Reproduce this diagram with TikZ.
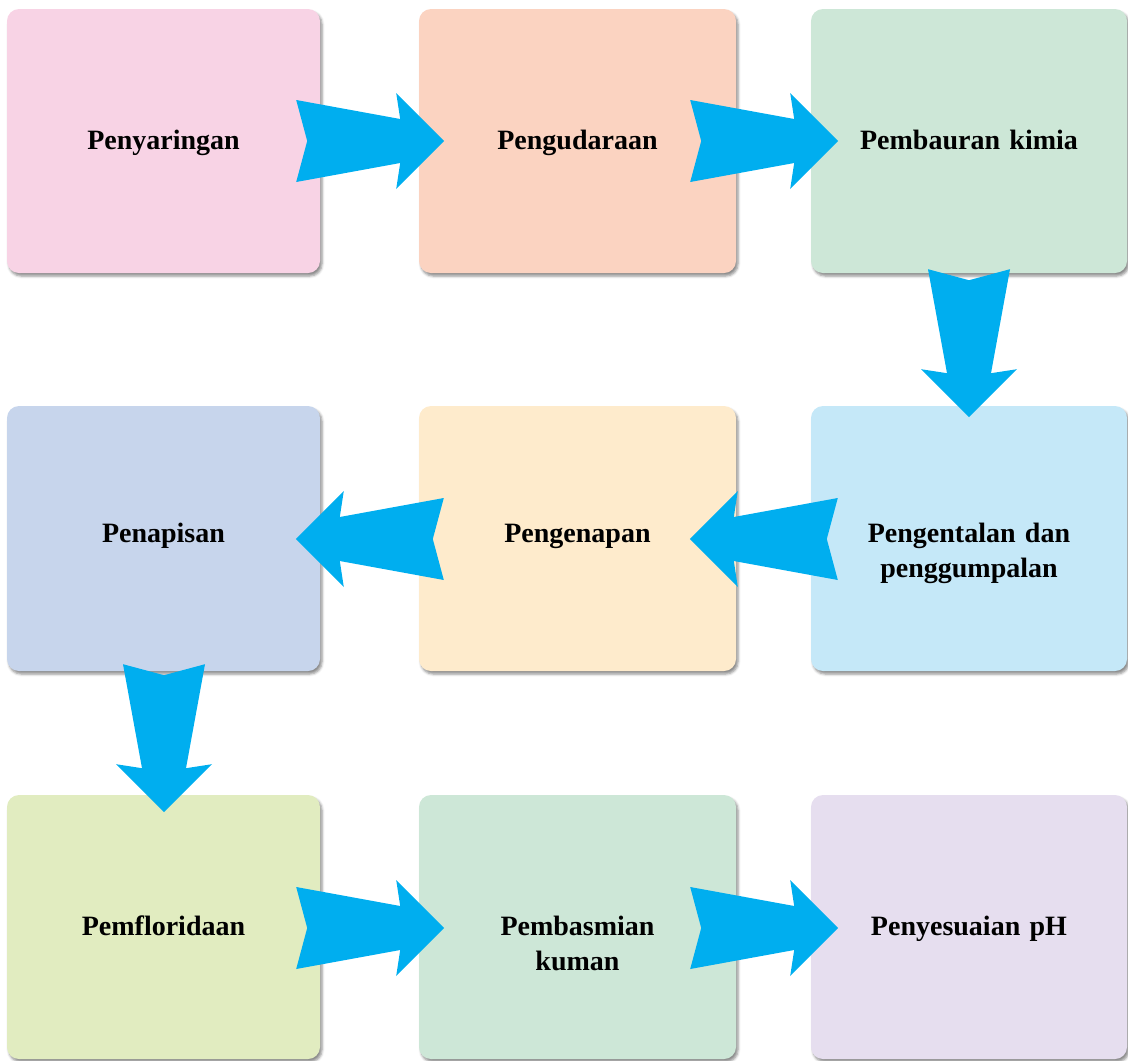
\documentclass[tikz,border=0pt]{standalone}
\usepackage{fontspec}
\setmainfont{Liberation Serif}
\usetikzlibrary{calc,shadows.blur}

\definecolor{cPink}{HTML}{F8D3E5}
\definecolor{cPeach}{HTML}{FBD3C1}
\definecolor{cMint}{HTML}{CDE7D7}
\definecolor{cSky}{HTML}{C5E8F8}
\definecolor{cCream}{HTML}{FEEBCC}
\definecolor{cSteel}{HTML}{C7D5EC}
\definecolor{cLime}{HTML}{E1ECC0}
\definecolor{cLilac}{HTML}{E6DEEF}
\definecolor{cArrow}{HTML}{00AEEF}

\tikzset{
  stage/.style={rectangle, rounded corners=12pt, inner sep=0pt,
    minimum height=264pt,
    blur shadow={shadow xshift=2pt, shadow yshift=-3pt,
      shadow blur radius=2.5pt, shadow opacity=45}},
  lbl/.style={anchor=base, inner sep=0pt, text width=300pt, align=center,
    font=\fontsize{28}{35}\selectfont\bfseries},
  % block arrow running along +x from its notched tail to its tip
  pics/blockarrow/.style={code={
    \fill[cArrow] (0,-41) -- (11,0) -- (0,41) -- (104,22) -- (100,48)
      -- (148,0) -- (100,-48) -- (104,-22) -- cycle;}}
}

\begin{document}
\begin{tikzpicture}[x=1pt,y=-1pt]
\useasboundingbox (0,0) rectangle (1128,1061);

% process stages
\node[stage, fill=cPink,  minimum width=313pt] (b1) at (163.5,141) {};
\node[stage, fill=cPeach, minimum width=317pt] (b2) at (577.5,141) {};
\node[stage, fill=cMint,  minimum width=316pt] (b3) at (969,141) {};
\node[stage, fill=cSteel, minimum width=313pt, minimum height=265pt] (b4) at (163.5,538.5) {};
\node[stage, fill=cCream, minimum width=317pt, minimum height=265pt] (b5) at (577.5,538.5) {};
\node[stage, fill=cSky,   minimum width=316pt, minimum height=265pt] (b6) at (969,538.5) {};
\node[stage, fill=cLime,  minimum width=313pt] (b7) at (163.5,927) {};
\node[stage, fill=cMint,  minimum width=317pt] (b8) at (577.5,927) {};
\node[stage, fill=cLilac, minimum width=316pt] (b9) at (969,927) {};

% stage names
\node[lbl] (t1) at ($(b1.center)+(0,8)$) {Penyaringan};
\node[lbl] (t2) at ($(b2.center)+(0,8)$) {Pengudaraan};
\node[lbl] (t3) at ($(b3.center)+(0,8)$) {Pembauran kimia};
\node[lbl] (t4) at ($(b4.center)+(0,3.5)$) {Penapisan};
\node[lbl] (t5) at ($(b5.center)+(0,3.5)$) {Pengenapan};
\node[lbl] (t6) at ($(b6.center)+(0,3.5)$) {Pengentalan dan\\penggumpalan};
\node[lbl] (t7) at ($(b7.center)+(0,8)$) {Pemfloridaan};
\node[lbl] (t8) at ($(b8.center)+(0,8)$) {Pembasmian\\kuman};
\node[lbl] (t9) at ($(b9.center)+(0,8)$) {Penyesuaian pH};

% flow arrows between stages
\pic at ($(b1.east)+(-24,0)$) {blockarrow};
\pic at ($(b2.east)+(-46,0)$) {blockarrow};
\pic[rotate=-90] at ($(b3.south)+(0,-4)$) {blockarrow};
\pic[rotate=180] at ($(b6.west)+(27,0.5)$) {blockarrow};
\pic[rotate=180] at ($(b5.west)+(25,0.5)$) {blockarrow};
\pic[rotate=-90] at ($(b4.south)+(0.5,-7)$) {blockarrow};
\pic at ($(b7.east)+(-24,1)$) {blockarrow};
\pic at ($(b8.east)+(-46,1)$) {blockarrow};
\end{tikzpicture}
\end{document}
